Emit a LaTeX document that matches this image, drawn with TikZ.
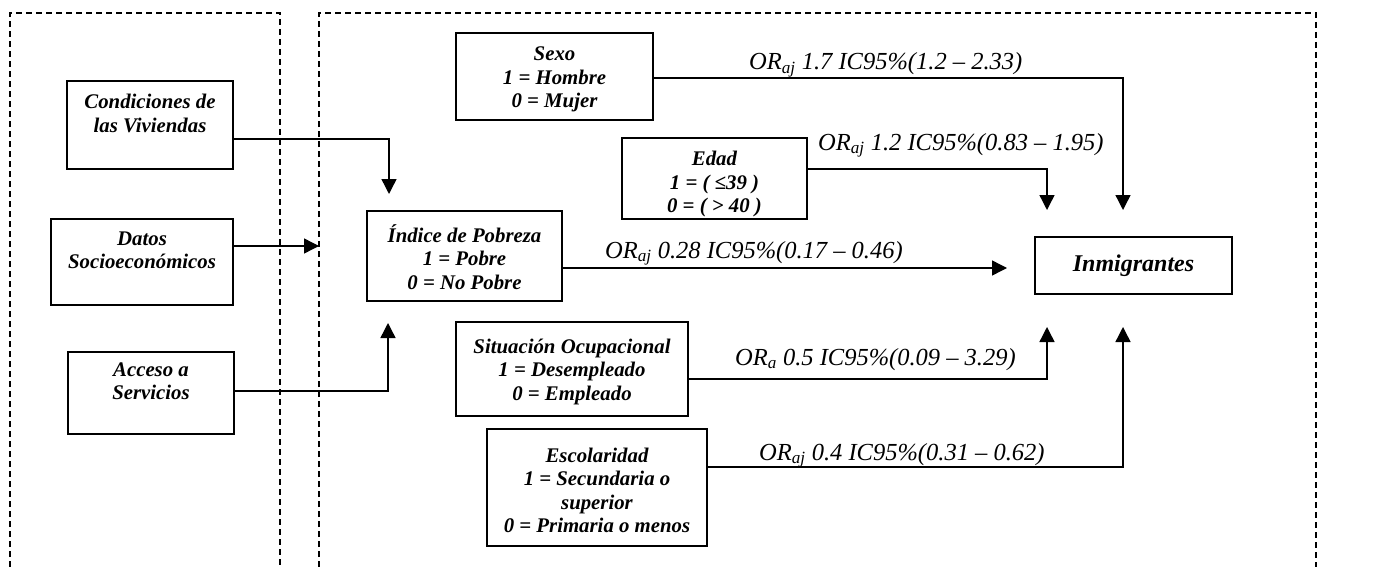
\documentclass[tikz,border=0pt]{standalone}
\usepackage{fontspec}
\setmainfont{Liberation Serif}
\usetikzlibrary{arrows.meta}

\tikzset{
  varbox/.style={draw, line width=1.5pt, inner sep=0pt, align=center,
    font=\fontsize{20.8}{23.5}\selectfont\bfseries\itshape},
  orlabel/.style={anchor=base west, inner sep=0pt,
    font=\fontsize{24.5}{27}\selectfont\itshape},
  link/.style={line width=1.4pt},
  arr/.style={link, -{Triangle[length=15pt,width=15pt]}},
  groupframe/.style={line width=1.2pt, dash pattern=on 6pt off 4pt}
}

\begin{document}
\begin{tikzpicture}[x=1pt, y=-1pt]
  \useasboundingbox (0,0) rectangle (1373,567);

  % Dashed group frames (open at the bottom)
  \draw[groupframe] (10,567) -- (10,13) -- (280,13) -- (280,567);
  \draw[groupframe] (319,567) -- (319,13) -- (1316,13) -- (1316,567);

  % Left group: poverty index components
  \node[varbox, minimum width=166pt, minimum height=88pt] (cond) at (150,125)
    {Condiciones de\\las Viviendas\\~};
  \node[varbox, minimum width=182pt, minimum height=86pt] (datos) at (142,262)
    {Datos\\Socioeconómicos\\~};
  \node[varbox, minimum width=166pt, minimum height=82pt] (acceso) at (151,393)
    {Acceso a\\Servicios\\~};

  % Explanatory variables
  \node[varbox, minimum width=195pt, minimum height=90pt] (pobreza) at (464.5,256)
    {\rule{0pt}{20pt}Índice de Pobreza\\1 = Pobre\\0 = No Pobre};
  \node[varbox, minimum width=197pt, minimum height=87pt] (sexo) at (554.5,76.5)
    {\rule{0pt}{20pt}Sexo\\1 = Hombre\\0 = Mujer};
  \node[varbox, minimum width=185pt, minimum height=81pt] (edad) at (714.5,178.5)
    {\rule{0pt}{26pt}Edad\\1 = ( ≤39 )\\0 = ( > 40 )};
  \node[varbox, minimum width=232pt, minimum height=94pt] (ocup) at (572,369)
    {\rule{0pt}{20pt}Situación Ocupacional\\1 = Desempleado\\0 = Empleado};
  \node[varbox, minimum width=220pt, minimum height=117pt] (escol) at (597,487.5)
    {\rule{0pt}{20pt}Escolaridad\\1 = Secundaria o\\superior\\0 = Primaria o menos};

  % Outcome
  \node[varbox, minimum width=197pt, minimum height=57pt,
    font=\fontsize{24}{28}\selectfont\bfseries\itshape] (inmig) at (1133.5,265.5)
    {Inmigrantes};

  % Arrow end points
  \coordinate (pobTop) at (389,194);
  \coordinate (pobLeft) at (319,246);
  \coordinate (pobBot) at (388,323);
  \coordinate (inmLeft) at (1007,268);
  \coordinate (inmTopA) at (1047,210);
  \coordinate (inmTopB) at (1123,210);
  \coordinate (inmBotA) at (1047,327);
  \coordinate (inmBotB) at (1123,327);

  % Connectors
  \draw[arr] ([yshift=-14pt]cond.east) -| (pobTop);
  \draw[arr] ([yshift=16pt]datos.east) -- (pobLeft);
  \draw[arr] ([yshift=2pt]acceso.east) -| (pobBot);
  \draw[arr] ([yshift=-12pt]pobreza.east) -- (inmLeft);
  \draw[arr] ([yshift=-1.5pt]sexo.east) -| (inmTopB);
  \draw[arr] ([yshift=9.5pt]edad.east) -| (inmTopA);
  \draw[arr] ([yshift=-10pt]ocup.east) -| (inmBotA);
  \draw[arr] ([yshift=20.5pt]escol.east) -| (inmBotB);

  % Odds ratio labels
  \node[orlabel] (orSexo) at (749,70) {OR\textsubscript{aj} 1.7 IC95\%(1.2 – 2.33)};
  \node[orlabel] (orEdad) at (818,150) {OR\textsubscript{aj} 1.2 IC95\%(0.83 – 1.95)};
  \node[orlabel] (orPob) at (605,258) {OR\textsubscript{aj} 0.28 IC95\%(0.17 – 0.46)};
  \node[orlabel] (orOcup) at (735,365) {OR\textsubscript{a} 0.5 IC95\%(0.09 – 3.29)};
  \node[orlabel] (orEscol) at (759,460) {OR\textsubscript{aj} 0.4 IC95\%(0.31 – 0.62)};
\end{tikzpicture}
\end{document}
